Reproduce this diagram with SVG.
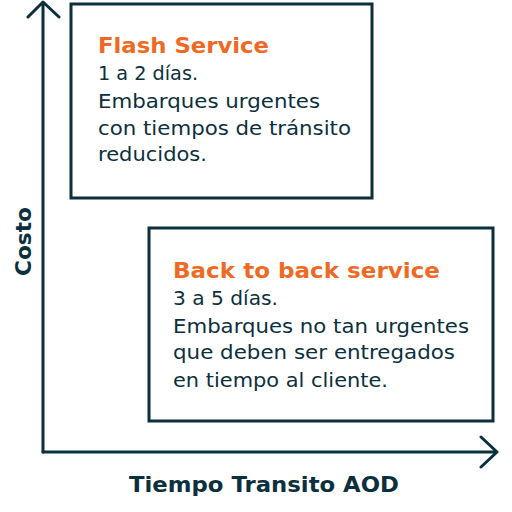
<svg xmlns="http://www.w3.org/2000/svg" width="512" height="512" viewBox="0 0 512 512">
<style>
.box{fill:#fff;stroke:#0c2f3d;stroke-width:3}
.axis{fill:none;stroke:#0c2f3d;stroke-width:3;stroke-linecap:round;stroke-linejoin:round}
.t{font-family:"DejaVu Sans","Liberation Sans",sans-serif;font-size:19px;fill:#0c2f3d}
.h{font-family:"DejaVu Sans","Liberation Sans",sans-serif;font-size:22px;font-weight:bold;fill:#ee6a24}
.lab{font-family:"DejaVu Sans","Liberation Sans",sans-serif;font-size:22px;font-weight:bold;fill:#0c2f3d}
</style>
<rect width="512" height="512" fill="#fff"/>
<g id="connectors">
<path class="axis" d="M43 452 V3 M28 17 L43 2 L59 17"/>
<path class="axis" d="M43 452 H497 M481 437 L497 452 L481 467"/>
</g>
<g id="flash">
<rect class="box" x="71" y="4" width="301" height="194"/>
<text class="h" x="98" y="53" textLength="171" lengthAdjust="spacingAndGlyphs">Flash Service</text>
<text class="t" x="98" y="80" textLength="100" lengthAdjust="spacingAndGlyphs">1 a 2 días.</text>
<text class="t" x="98" y="108" textLength="222" lengthAdjust="spacingAndGlyphs">Embarques urgentes</text>
<text class="t" x="98" y="135" textLength="253" lengthAdjust="spacingAndGlyphs">con tiempos de tránsito</text>
<text class="t" x="98" y="161" textLength="109" lengthAdjust="spacingAndGlyphs">reducidos.</text>
</g>
<g id="b2b">
<rect class="box" x="149" y="228" width="344" height="193"/>
<text class="h" x="173" y="278" textLength="267" lengthAdjust="spacingAndGlyphs">Back to back service</text>
<text class="t" x="173" y="305" textLength="105" lengthAdjust="spacingAndGlyphs">3 a 5 días.</text>
<text class="t" x="173" y="333" textLength="296" lengthAdjust="spacingAndGlyphs">Embarques no tan urgentes</text>
<text class="t" x="173" y="359" textLength="282" lengthAdjust="spacingAndGlyphs">que deben ser entregados</text>
<text class="t" x="173" y="387" textLength="215" lengthAdjust="spacingAndGlyphs">en tiempo al cliente.</text>
</g>
<g id="labels">
<text class="lab" x="129" y="492" textLength="270" lengthAdjust="spacingAndGlyphs">Tiempo Transito AOD</text>
<text class="lab" transform="translate(31 276) rotate(-90)" x="0" y="0" textLength="69" lengthAdjust="spacingAndGlyphs">Costo</text>
</g>
</svg>
